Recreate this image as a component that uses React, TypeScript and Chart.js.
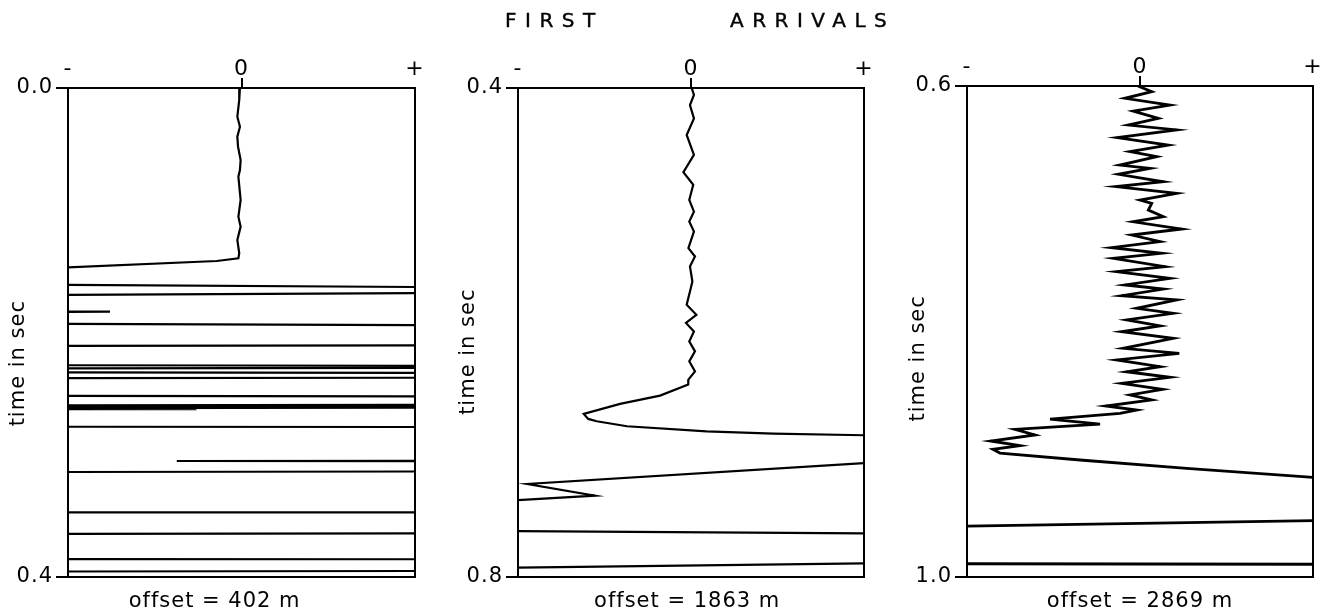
import React, { useEffect, useRef } from 'react';
import { Chart, registerables } from 'chart.js';

Chart.register(...registerables);

// ---------- data ----------
const titleWords = ['FIRST', 'ARRIVALS'];
const ampTickValues = [-1, 0, 1];
const ampTickLabels = ['-', '0', '+'];
const timeAxisLabel = 'time in sec';
const offsetLabels = ['offset = 402 m', 'offset = 1863 m', 'offset = 2869 m'];
const timeRange1 = [0.0, 0.4];
const timeRange2 = [0.4, 0.8];
const timeRange3 = [0.6, 1.0];

// offset = 402 m (amplitude: -1 = left edge, +1 = right edge; values beyond are clipped)
const trace1Amp = [
  -0.009, -0.013, -0.024, -0.009, -0.024, -0.02, -0.005, -0.009, -0.018, -0.005, -0.018, -0.005, -0.024, -0.013,
  -0.018, -0.143, -1.02, -3.0,
  -1.02, 1.02, 3.0, 1.02, -1.02, -3.0,
  -1.02, -0.758, -1.02, -3.0,
  -1.02, 1.02, 3.0, 1.02, -1.02, -3.0,
  -1.02, 1.02, 3.0, 1.02, -1.02, -3.0,
  -1.02, 1.02, 3.0, 1.02, -1.02, -3.0,
  -1.02, 1.02, 3.0, 1.02, -1.02, -3.0,
  -1.02, 1.02, 3.0, 1.02, -1.02, -3.0,
  -1.02, -0.26, -1.02, -3.0,
  -1.02, 1.02, 3.0,
  1.02, -0.373, 1.02, 3.0,
  1.02, -1.02, -3.0,
  -1.02, 1.02, 3.0, 1.02, -1.02, -3.0,
  -1.02, 1.02, 3.0, 1.02, -1.02, -3.0,
];
const trace1Time = [
  0.0, 0.0098, 0.0235, 0.0317, 0.0398, 0.048, 0.0589, 0.0671, 0.0725, 0.0916, 0.1053, 0.1134, 0.1243, 0.1352,
  0.1393, 0.1415, 0.1468, 0.154,
  0.1611, 0.1628, 0.1652, 0.1677, 0.1693, 0.176,
  0.1828, 0.183, 0.1832, 0.188,
  0.193, 0.1939, 0.202, 0.2106, 0.211, 0.219,
  0.2268, 0.2272, 0.2281, 0.229, 0.2294, 0.231,
  0.2326, 0.233, 0.235, 0.237, 0.2374, 0.2446,
  0.2519, 0.2522, 0.2556, 0.2591, 0.2595, 0.2599,
  0.2603, 0.2606, 0.261, 0.2614, 0.2618, 0.2622,
  0.2625, 0.2626, 0.2627, 0.27,
  0.2771, 0.2773, 0.291,
  0.3049, 0.3051, 0.3053, 0.3095,
  0.3137, 0.3141, 0.3306,
  0.3471, 0.3472, 0.3557, 0.3643, 0.3648, 0.375,
  0.3853, 0.3855, 0.3903, 0.3951, 0.3955, 0.41,
];

// offset = 1863 m
const trace2Amp = [
  0.004, 0.017, -0.006, 0.017, -0.025, 0.017, -0.044, 0.013, -0.01, 0.017, -0.01, 0.017, -0.015, 0.023,
  -0.006, 0.008, -0.006, -0.025, 0.031, -0.029, 0.017, -0.01, 0.023, -0.01, 0.023, -0.015, -0.016,
  -0.179, -0.41, -0.62, -0.594, -0.545, -0.37, 0.09, 0.476, 1.02, 2.5,
  1.02, -0.946, -0.555, -1.02, -2.5,
  -1.02, 1.02, 2.5, 1.02, -1.02, -2.5,
];
const trace2Time = [
  0.4, 0.4057, 0.4139, 0.4248, 0.4384, 0.4547, 0.4689, 0.4792, 0.4915, 0.5011, 0.5092, 0.5174, 0.531, 0.5378,
  0.546, 0.5583, 0.5664, 0.5773, 0.5855, 0.5922, 0.5991, 0.6073, 0.6154, 0.6236, 0.6318, 0.6386, 0.6426,
  0.6516, 0.6584, 0.6666, 0.6707, 0.6726, 0.6767, 0.6808, 0.6827, 0.6841, 0.695,
  0.7066, 0.7239, 0.7335, 0.7373, 0.75,
  0.7625, 0.7644, 0.777, 0.7889, 0.7924, 0.81,
];

// offset = 2869 m
const trace3Amp = [
  -0.012, 0.068, -0.087, 0.173, -0.039, 0.106, -0.068, 0.212, -0.131, 0.164, -0.058, 0.097, -0.116, 0.058,
  -0.125, 0.135, -0.139, 0.212, 0.0, 0.068, 0.048, 0.135, -0.039, 0.241, -0.048, 0.116, -0.164, 0.125,
  -0.154, 0.145, -0.135, 0.173, -0.087, 0.135, -0.106, 0.212, -0.019, 0.192, -0.077, 0.116, -0.106, 0.192,
  -0.097, 0.227, -0.135, 0.116, -0.077, 0.173, -0.106, 0.131, -0.058, 0.068, -0.197, -0.019, -0.116,
  -0.52, -0.231, -0.723, -0.607, -0.863, -0.694, -0.85, -0.809, -0.347, 0.27, 1.02, 2.5,
  1.02, -1.02, -2.5, -1.02, 1.02, 2.5,
];
const trace3Time = [
  0.6, 0.6046, 0.61, 0.6155, 0.6204, 0.6263, 0.6318, 0.6358, 0.6421, 0.6481, 0.6535, 0.6576, 0.6644, 0.6671,
  0.6719, 0.678, 0.682, 0.6874, 0.6929, 0.6956, 0.701, 0.7065, 0.7106, 0.7165, 0.7214, 0.7268, 0.7317, 0.7363,
  0.7404, 0.7472, 0.7513, 0.7567, 0.7621, 0.7654, 0.7708, 0.7743, 0.7811, 0.7852, 0.7906, 0.7955, 0.8002, 0.8055,
  0.8137, 0.8178, 0.8232, 0.8287, 0.8328, 0.8373, 0.8422, 0.8471, 0.8517, 0.8558, 0.8607, 0.864, 0.8667,
  0.8713, 0.8754, 0.8797, 0.8843, 0.8892, 0.893, 0.896, 0.899, 0.9047, 0.9115, 0.919, 0.936,
  0.9541, 0.9586, 0.974, 0.9892, 0.9896, 1.01,
];

// ---------- layout / style ----------
const FONT = "'DejaVu Sans', sans-serif";
const CANVAS_H = 614;

const panels = [
  { amp: trace1Amp, time: trace1Time, range: timeRange1, offset: offsetLabels[0], left: 0, width: 440, yW: 68, yrW: 12, padR: 13, topH: 88, yTitlePad: 6.4, lw: 2.2, ySpaces: 8, xSpaces: 7 },
  { amp: trace2Amp, time: trace2Time, range: timeRange2, offset: offsetLabels[1], left: 440, width: 440, yW: 78, yrW: 12, padR: 4, topH: 88, yTitlePad: 16.4, lw: 2.2, ySpaces: 5, xSpaces: 1 },
  { amp: trace3Amp, time: trace3Time, range: timeRange3, offset: offsetLabels[2], left: 880, width: 445, yW: 87, yrW: 12, padR: 0, topH: 86, yTitlePad: 26, lw: 2.8, ySpaces: 7, xSpaces: 0 },
];

type PanelCfg = typeof panels[number];

const spacingPlugin = {
  id: 'letterSpacing',
  beforeDraw(chart: any) {
    try {
      chart.ctx.letterSpacing = '1px';
    } catch (e) {
      /* ignore */
    }
  },
};

function Panel({ cfg }: { cfg: PanelCfg }) {
  const ref = useRef<HTMLCanvasElement>(null);
  useEffect(() => {
    const [tMin, tMax] = cfg.range;
    const pts = cfg.amp.map((a, i) => ({ x: a, y: cfg.time[i] }));
    const chart = new Chart(ref.current!, {
      type: 'scatter',
      data: {
        datasets: [
          {
            data: pts,
            showLine: true,
            borderColor: '#000',
            borderWidth: cfg.lw,
            pointRadius: 0,
            tension: 0,
            clip: 0,
            xAxisID: 'x',
            yAxisID: 'y',
          },
        ],
      },
      plugins: [spacingPlugin],
      options: {
        animation: false,
        responsive: false,
        devicePixelRatio: 1,
        events: [],
        layout: { autoPadding: false, padding: { left: 0, right: cfg.padR, top: 0, bottom: 0 } },
        plugins: { legend: { display: false }, tooltip: { enabled: false }, title: { display: false } },
        scales: {
          x: {
            type: 'linear',
            position: 'top',
            min: -1,
            max: 1,
            afterBuildTicks: (s: any) => {
              s.ticks = ampTickValues.map((v) => ({ value: v }));
            },
            afterFit: (s: any) => {
              s.height = cfg.topH;
            },
            ticks: {
              autoSkip: false,
              maxRotation: 0,
              padding: -4,
              color: '#000',
              font: { family: FONT, size: 22 },
              callback: (v: any) => ampTickLabels[ampTickValues.indexOf(Number(v))],
            },
            grid: {
              drawOnChartArea: false,
              drawTicks: true,
              tickLength: 10,
              lineWidth: 2,
              color: (c: any) => (c.tick && c.tick.value === 0 ? '#000' : 'rgba(0,0,0,0)'),
            },
            border: { display: true, color: '#000', width: 2 },
          },
          xb: {
            type: 'linear',
            axis: 'x',
            position: 'bottom',
            min: -1,
            max: 1,
            afterFit: (s: any) => {
              s.height = CANVAS_H - 577;
            },
            ticks: { display: false },
            grid: { display: false },
            border: { display: true, color: '#000', width: 2 },
            title: {
              display: true,
              text: cfg.offset + ' '.repeat(cfg.xSpaces),
              color: '#000',
              font: { family: FONT, size: 21 },
              padding: { top: 0, bottom: 0 },
            },
          },
          y: {
            type: 'linear',
            position: 'left',
            reverse: true,
            min: tMin,
            max: tMax,
            afterBuildTicks: (s: any) => {
              s.ticks = cfg.range.map((v) => ({ value: v }));
            },
            afterFit: (s: any) => {
              s.width = cfg.yW;
            },
            ticks: {
              autoSkip: false,
              padding: 3,
              color: '#000',
              font: { family: FONT, size: 21 },
              callback: (v: any) => Number(v).toFixed(1),
            },
            grid: { drawOnChartArea: false, drawTicks: true, tickLength: 12, lineWidth: 2, color: '#000' },
            border: { display: true, color: '#000', width: 2 },
            title: {
              display: true,
              text: timeAxisLabel + ' '.repeat(cfg.ySpaces),
              color: '#000',
              font: { family: FONT, size: 21 },
              padding: { top: cfg.yTitlePad, bottom: 0 },
            },
          },
          yr: {
            type: 'linear',
            axis: 'y',
            position: 'right',
            reverse: true,
            min: tMin,
            max: tMax,
            afterFit: (s: any) => {
              s.width = cfg.yrW;
            },
            ticks: { display: false },
            grid: { display: false },
            border: { display: true, color: '#000', width: 2 },
          },
        },
      } as any,
    });
    return () => chart.destroy();
  }, []);
  return (
    <canvas
      ref={ref}
      width={cfg.width}
      height={CANVAS_H}
      style={{ position: 'absolute', left: cfg.left, top: 0, width: cfg.width, height: CANVAS_H }}
    />
  );
}

const titleStyle: React.CSSProperties = {
  position: 'absolute',
  top: 10,
  fontFamily: FONT,
  fontSize: 20,
  lineHeight: '20px',
  letterSpacing: '8.5px',
  color: '#000',
  whiteSpace: 'pre',
  WebkitTextStroke: '0.4px #000',
};

export default function App() {
  return (
    <div style={{ position: 'absolute', left: 0, top: 0, width: 1325, height: CANVAS_H, background: '#fff', overflow: 'hidden' }}>
      {panels.map((p, i) => (
        <Panel key={i} cfg={p} />
      ))}
      <span style={{ ...titleStyle, left: 505 }}>{titleWords[0]}</span>
      <span style={{ ...titleStyle, left: 730 }}>{titleWords[1]}</span>
    </div>
  );
}
